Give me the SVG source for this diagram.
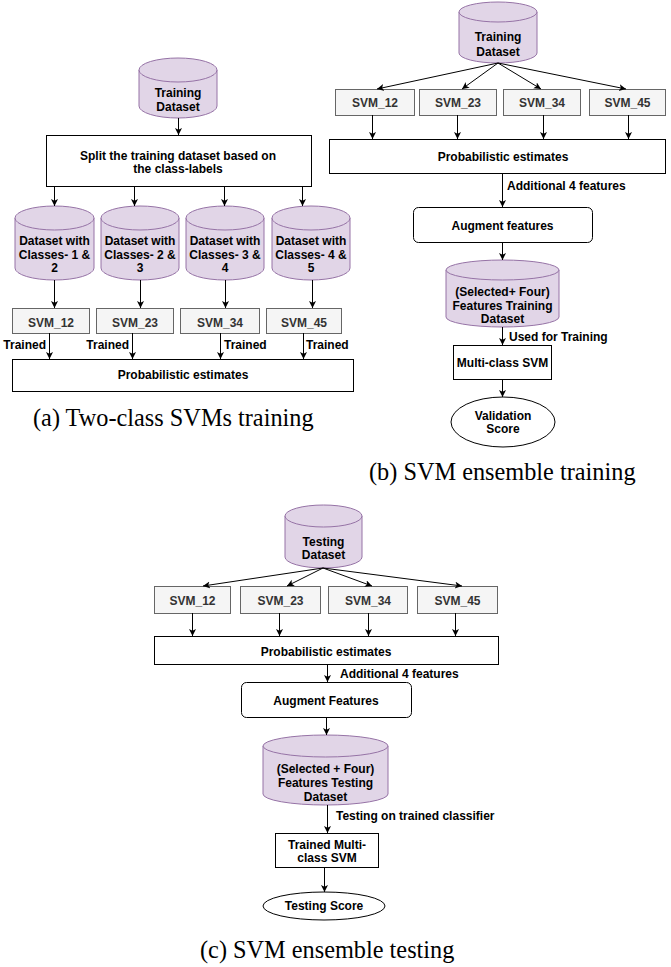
<svg xmlns="http://www.w3.org/2000/svg" width="671" height="967" viewBox="0 0 671 967">
  <style>
    .bg { fill: #ffffff; }
    .box { fill: #ffffff; stroke: #000000; stroke-width: 1; }
    .svm { fill: #f5f5f5; stroke: #666666; stroke-width: 1; }
    .cyl { fill: #e1d5e7; stroke: #9673a6; stroke-width: 1; }
    .t { font-family: "Liberation Sans", Arial, sans-serif; font-weight: bold; font-size: 12px; fill: #000000; text-anchor: middle; }
    .ts { font-family: "Liberation Sans", Arial, sans-serif; font-weight: bold; font-size: 12px; fill: #333333; text-anchor: middle; }
    .lbl { font-family: "Liberation Sans", Arial, sans-serif; font-weight: bold; font-size: 12px; fill: #000000; }
    .cap { font-family: "Liberation Serif", "Times New Roman", serif; font-size: 24.3px; fill: #000000; }
    .edge { fill: none; stroke: #000000; stroke-width: 1; marker-end: url(#arr); }
  </style>
  <defs>
    <marker id="arr" markerUnits="userSpaceOnUse" markerWidth="8" markerHeight="8" refX="7" refY="3.5" orient="auto">
      <path d="M0,0 L7,3.5 L0,7 L1.8,3.5 Z" fill="#000000"/>
    </marker>
  </defs>
  <rect class="bg" x="0" y="0" width="671" height="967"/>

  <!-- ===== (a) two-class SVM training ===== -->
  <g id="a-train-data">
    <path class="cyl" d="M139,70 A39,12 0 0 1 217,70 L217,106 A39,12 0 0 1 139,106 Z"/>
    <path class="cyl" fill="none" d="M139,70 A39,12 0 0 0 217,70"/>
    <text class="t" x="178" y="97">Training</text>
    <text class="t" x="178" y="111">Dataset</text>
  </g>
  <g id="a-split">
    <rect class="box" x="46.5" y="135.5" width="265" height="51"/>
    <text class="t" x="178" y="160">Split the training dataset based on</text>
    <text class="t" x="178" y="173">the class-labels</text>
  </g>
  <g id="a-ds12">
    <path class="cyl" d="M15,218 A39.5,12 0 0 1 94,218 L94,268 A39.5,12 0 0 1 15,268 Z"/>
    <path class="cyl" d="M15,218 A39.5,12 0 0 0 94,218"/>
    <text class="t" x="54.5" y="245">Dataset with</text>
    <text class="t" x="54.5" y="258.5">Classes- 1 &amp;</text>
    <text class="t" x="54.5" y="272">2</text>
  </g>
  <g id="a-ds23">
    <path class="cyl" d="M101,218 A39,12 0 0 1 179,218 L179,268 A39,12 0 0 1 101,268 Z"/>
    <path class="cyl" d="M101,218 A39,12 0 0 0 179,218"/>
    <text class="t" x="140" y="245">Dataset with</text>
    <text class="t" x="140" y="258.5">Classes- 2 &amp;</text>
    <text class="t" x="140" y="272">3</text>
  </g>
  <g id="a-ds34">
    <path class="cyl" d="M186,218 A39,12 0 0 1 264,218 L264,268 A39,12 0 0 1 186,268 Z"/>
    <path class="cyl" d="M186,218 A39,12 0 0 0 264,218"/>
    <text class="t" x="225" y="245">Dataset with</text>
    <text class="t" x="225" y="258.5">Classes- 3 &amp;</text>
    <text class="t" x="225" y="272">4</text>
  </g>
  <g id="a-ds45">
    <path class="cyl" d="M272,218 A39,12 0 0 1 350,218 L350,268 A39,12 0 0 1 272,268 Z"/>
    <path class="cyl" d="M272,218 A39,12 0 0 0 350,218"/>
    <text class="t" x="311" y="245">Dataset with</text>
    <text class="t" x="311" y="258.5">Classes- 4 &amp;</text>
    <text class="t" x="311" y="272">5</text>
  </g>
  <g id="a-svm12">
    <rect class="svm" x="12.5" y="308.5" width="77" height="25"/>
    <text class="ts" x="51" y="327">SVM_12</text>
  </g>
  <g id="a-svm23">
    <rect class="svm" x="96.5" y="308.5" width="77" height="25"/>
    <text class="ts" x="135" y="327">SVM_23</text>
  </g>
  <g id="a-svm34">
    <rect class="svm" x="180.5" y="308.5" width="79" height="25"/>
    <text class="ts" x="220" y="327">SVM_34</text>
  </g>
  <g id="a-svm45">
    <rect class="svm" x="266.5" y="308.5" width="75" height="25"/>
    <text class="ts" x="304" y="327">SVM_45</text>
  </g>
  <g id="a-prob">
    <rect class="box" x="12.5" y="359.5" width="341" height="32"/>
    <text class="t" x="183" y="379">Probabilistic estimates</text>
  </g>
  <text class="cap" x="33" y="426">(a) Two-class SVMs training</text>

  <!-- ===== (b) SVM ensemble training ===== -->
  <g id="b-train-data">
    <path class="cyl" d="M459,12 A39,10 0 0 1 537,12 L537,53 A39,10 0 0 1 459,53 Z"/>
    <path class="cyl" d="M459,12 A39,10 0 0 0 537,12"/>
    <text class="t" x="498" y="41">Training</text>
    <text class="t" x="498" y="56">Dataset</text>
  </g>
  <g id="b-svm12">
    <rect class="svm" x="335.5" y="89.5" width="79" height="26"/>
    <text class="ts" x="375" y="106.5">SVM_12</text>
  </g>
  <g id="b-svm23">
    <rect class="svm" x="419.5" y="89.5" width="77" height="26"/>
    <text class="ts" x="458" y="106.5">SVM_23</text>
  </g>
  <g id="b-svm34">
    <rect class="svm" x="503.5" y="89.5" width="77" height="26"/>
    <text class="ts" x="542" y="106.5">SVM_34</text>
  </g>
  <g id="b-svm45">
    <rect class="svm" x="589.5" y="89.5" width="76" height="26"/>
    <text class="ts" x="627.5" y="106.5">SVM_45</text>
  </g>
  <g id="b-prob">
    <rect class="box" x="329.5" y="139.5" width="336" height="34"/>
    <text class="t" x="503" y="161">Probabilistic estimates</text>
  </g>
  <g id="b-augment">
    <rect class="box" x="413.5" y="207.5" width="179" height="35" rx="5"/>
    <text class="t" x="502.5" y="230">Augment features</text>
  </g>
  <g id="b-feat-data">
    <path class="cyl" d="M446,270 A56.5,10 0 0 1 559,270 L559,317 A56.5,10 0 0 1 446,317 Z"/>
    <path class="cyl" d="M446,270 A56.5,10 0 0 0 559,270"/>
    <text class="t" x="502.5" y="296">(Selected+ Four)</text>
    <text class="t" x="502.5" y="310">Features Training</text>
    <text class="t" x="502.5" y="323">Dataset</text>
  </g>
  <g id="b-multi">
    <rect class="box" x="453.5" y="345.5" width="98" height="34"/>
    <text class="t" x="502.5" y="367">Multi-class SVM</text>
  </g>
  <g id="b-score">
    <ellipse class="box" cx="503" cy="422" rx="52" ry="25"/>
    <text class="t" x="503" y="420">Validation</text>
    <text class="t" x="503" y="433">Score</text>
  </g>
  <text class="cap" x="369" y="480">(b) SVM ensemble training</text>

  <!-- ===== (c) SVM ensemble testing ===== -->
  <g id="c-test-data">
    <path class="cyl" d="M285,516 A38.5,11 0 0 1 362,516 L362,557 A38.5,11 0 0 1 285,557 Z"/>
    <path class="cyl" d="M285,516 A38.5,11 0 0 0 362,516"/>
    <text class="t" x="323.5" y="546">Testing</text>
    <text class="t" x="323.5" y="559">Dataset</text>
  </g>
  <g id="c-svm12">
    <rect class="svm" x="154.5" y="586.5" width="76" height="27"/>
    <text class="ts" x="192.5" y="605">SVM_12</text>
  </g>
  <g id="c-svm23">
    <rect class="svm" x="240.5" y="586.5" width="80" height="27"/>
    <text class="ts" x="280.5" y="605">SVM_23</text>
  </g>
  <g id="c-svm34">
    <rect class="svm" x="328.5" y="586.5" width="79" height="27"/>
    <text class="ts" x="368" y="605">SVM_34</text>
  </g>
  <g id="c-svm45">
    <rect class="svm" x="417.5" y="586.5" width="80" height="27"/>
    <text class="ts" x="457.5" y="605">SVM_45</text>
  </g>
  <g id="c-prob">
    <rect class="box" x="154.5" y="636.5" width="344" height="28"/>
    <text class="t" x="326" y="656">Probabilistic estimates</text>
  </g>
  <g id="c-augment">
    <rect class="box" x="241.5" y="682.5" width="170" height="35" rx="5"/>
    <text class="t" x="326" y="705">Augment Features</text>
  </g>
  <g id="c-feat-data">
    <path class="cyl" d="M263,746 A62.5,11 0 0 1 388,746 L388,794 A62.5,11 0 0 1 263,794 Z"/>
    <path class="cyl" d="M263,746 A62.5,11 0 0 0 388,746"/>
    <text class="t" x="325.5" y="773">(Selected + Four)</text>
    <text class="t" x="325.5" y="787">Features Testing</text>
    <text class="t" x="325.5" y="801">Dataset</text>
  </g>
  <g id="c-multi">
    <rect class="box" x="275.5" y="833.5" width="103" height="34"/>
    <text class="t" x="327" y="849">Trained Multi-</text>
    <text class="t" x="327" y="862">class SVM</text>
  </g>
  <g id="c-score">
    <ellipse class="box" cx="324" cy="906" rx="61" ry="14"/>
    <text class="t" x="324" y="910">Testing Score</text>
  </g>
  <text class="cap" x="200" y="958">(c) SVM ensemble testing</text>

  <!-- ===== connectors ===== -->
  <g id="connectors">
    <!-- (a) -->
    <line class="edge" x1="178.5" y1="118" x2="178.5" y2="135"/>
    <line class="edge" x1="54.5" y1="186" x2="54.5" y2="206"/>
    <line class="edge" x1="134.5" y1="186" x2="134.5" y2="206"/>
    <line class="edge" x1="224.5" y1="186" x2="224.5" y2="206"/>
    <line class="edge" x1="302.5" y1="186" x2="302.5" y2="206"/>
    <line class="edge" x1="54.5" y1="280" x2="54.5" y2="308"/>
    <line class="edge" x1="140.5" y1="280" x2="140.5" y2="308"/>
    <line class="edge" x1="225.5" y1="280" x2="225.5" y2="308"/>
    <line class="edge" x1="312.5" y1="280" x2="312.5" y2="308"/>
    <line class="edge" x1="49.5" y1="333" x2="49.5" y2="359"/>
    <line class="edge" x1="132.5" y1="333" x2="132.5" y2="359"/>
    <line class="edge" x1="220.5" y1="333" x2="220.5" y2="359"/>
    <line class="edge" x1="303.5" y1="333" x2="303.5" y2="359"/>
    <text class="lbl" x="46" y="349" text-anchor="end">Trained</text>
    <text class="lbl" x="129" y="349" text-anchor="end">Trained</text>
    <text class="lbl" x="224" y="349">Trained</text>
    <text class="lbl" x="306" y="349">Trained</text>
    <!-- (b) -->
    <line class="edge" x1="498" y1="63" x2="377" y2="89"/>
    <line class="edge" x1="498" y1="63" x2="462" y2="89"/>
    <line class="edge" x1="498" y1="63" x2="541" y2="89"/>
    <line class="edge" x1="498" y1="63" x2="626" y2="89"/>
    <line class="edge" x1="372.5" y1="115" x2="372.5" y2="139"/>
    <line class="edge" x1="457.5" y1="115" x2="457.5" y2="139"/>
    <line class="edge" x1="543.5" y1="115" x2="543.5" y2="139"/>
    <line class="edge" x1="628.5" y1="115" x2="628.5" y2="139"/>
    <line class="edge" x1="502.5" y1="173" x2="502.5" y2="207"/>
    <text class="lbl" x="507" y="190">Additional 4 features</text>
    <line class="edge" x1="502.5" y1="242" x2="502.5" y2="260"/>
    <line class="edge" x1="502.5" y1="327" x2="502.5" y2="345"/>
    <text class="lbl" x="509" y="341">Used for Training</text>
    <line class="edge" x1="502.5" y1="379" x2="502.5" y2="397"/>
    <!-- (c) -->
    <line class="edge" x1="323" y1="568" x2="203" y2="586"/>
    <line class="edge" x1="323" y1="568" x2="287" y2="586"/>
    <line class="edge" x1="323" y1="568" x2="372" y2="586"/>
    <line class="edge" x1="323" y1="568" x2="462" y2="586"/>
    <line class="edge" x1="192.5" y1="613" x2="192.5" y2="636"/>
    <line class="edge" x1="279.5" y1="613" x2="279.5" y2="636"/>
    <line class="edge" x1="368.5" y1="613" x2="368.5" y2="636"/>
    <line class="edge" x1="455.5" y1="613" x2="455.5" y2="636"/>
    <line class="edge" x1="327.5" y1="664" x2="327.5" y2="682"/>
    <text class="lbl" x="340" y="678">Additional 4 features</text>
    <line class="edge" x1="326.5" y1="717" x2="326.5" y2="735"/>
    <line class="edge" x1="327.5" y1="805" x2="327.5" y2="833"/>
    <text class="lbl" x="336" y="820">Testing on trained classifier</text>
    <line class="edge" x1="324.5" y1="867" x2="324.5" y2="892"/>
  </g>
</svg>
